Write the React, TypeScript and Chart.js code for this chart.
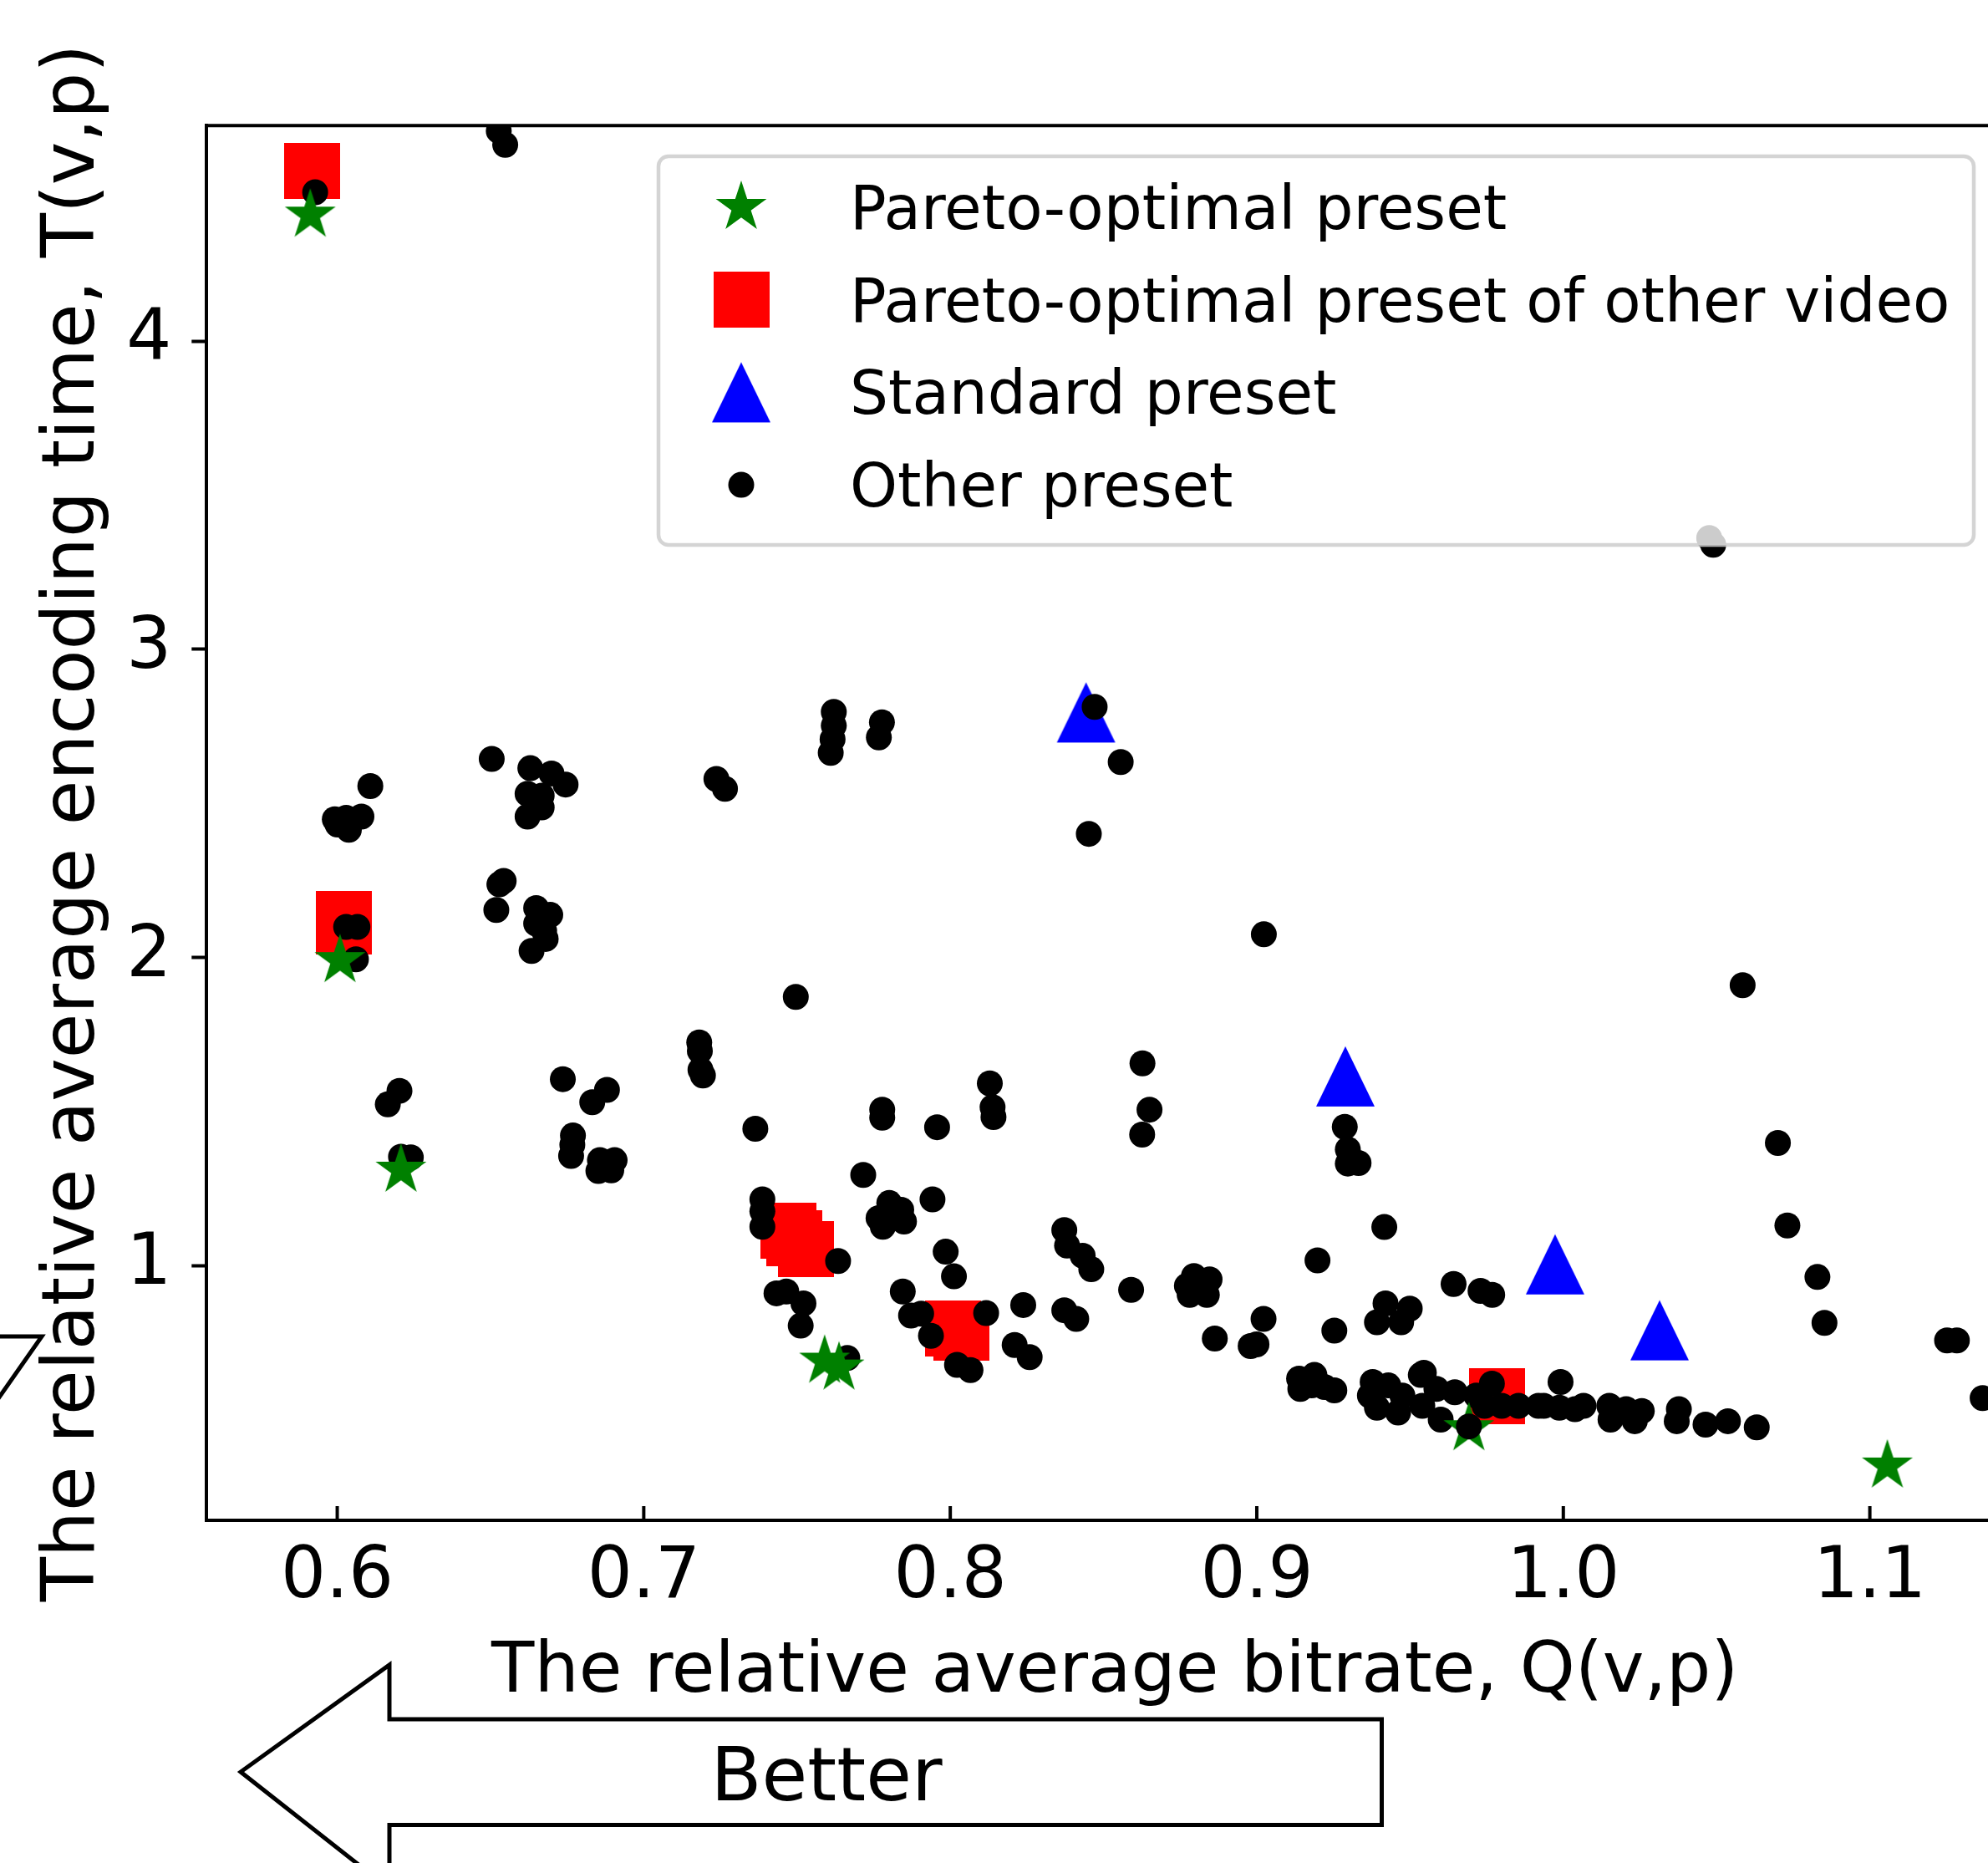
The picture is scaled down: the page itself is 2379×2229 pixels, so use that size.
import React, { useEffect, useRef } from 'react';
import { Chart, registerables } from 'chart.js';

Chart.register(...registerables);

const FONT = "'DejaVu Sans', 'Liberation Sans', sans-serif";

// ---- axis ticks ----
const xTickValues = [0.6, 0.7, 0.8, 0.9, 1.0, 1.1];
const yTickValues = [1, 2, 3, 4];

// ---- series ----
const paretoQ = [0.5912, 0.6009, 0.6208, 0.759, 0.7637, 0.9692, 1.1057];
const paretoT = [4.409, 1.99, 1.31, 0.69, 0.668, 0.471, 0.35];

const otherVideoQ = [0.5918, 0.6021, 0.6021, 0.7472, 0.749, 0.753, 0.801, 0.8035, 0.9783];
const otherVideoT = [4.552, 2.124, 2.1, 1.113, 1.088, 1.053, 0.797, 0.783, 0.575];

const standardQ = [0.8443, 0.9289, 0.9973, 1.0314];
const standardT = [2.795, 1.614, 1.004, 0.79];

const otherQ = [
  0.5928, 0.6527, 0.6548, 1.0476, 1.0489, 0.6108, 0.5992, 0.6029, 0.6079, 0.6038,
  0.6001, 0.6029, 0.6066, 0.6061, 0.6504, 0.663, 0.6699, 0.6745, 0.6621, 0.6667,
  0.6667, 0.6621, 0.6529, 0.6543, 0.6519, 0.6649, 0.6695, 0.6649, 0.6675, 0.668,
  0.6634, 0.7237, 0.7265, 0.762, 0.762, 0.7616, 0.761, 0.7777, 0.7767, 0.7496,
  0.8452, 0.8471, 0.8556, 0.9023, 1.0585, 0.6203, 0.6165, 0.6208, 0.624, 0.6736,
  0.688, 0.6832, 0.6769, 0.6767, 0.6763, 0.6857, 0.6905, 0.6852, 0.6894, 0.7181,
  0.7183, 0.7185, 0.7193, 0.7364, 0.7778, 0.7778, 0.7957, 0.8129, 0.8138, 0.8141,
  0.7716, 0.7387, 0.7387, 0.7387, 0.7465, 0.7521, 0.7512, 0.7433, 0.7634, 0.7664,
  0.7801, 0.784, 0.7849, 0.778, 0.7766, 0.7942, 0.7985, 0.8012, 0.7845, 0.7872,
  0.7905, 0.7937, 0.8117, 0.8022, 0.8066, 0.8238, 0.821, 0.8259, 0.8372, 0.8381,
  0.8432, 0.846, 0.8372, 0.8411, 0.8627, 0.865, 0.8626, 0.9287, 0.9297, 0.9297,
  0.9332, 0.9416, 0.9198, 0.859, 0.8795, 0.8846, 0.8781, 0.8837, 0.8772, 0.8863,
  0.9022, 0.898, 0.8999, 0.9253, 0.942, 0.9392, 0.9499, 0.9471, 0.9642, 0.973,
  0.9768, 0.9138, 0.9188, 0.9142, 0.9179, 0.9253, 0.9221, 0.9378, 0.9369, 0.9392,
  0.9429, 0.9461, 0.9475, 0.9535, 0.9545, 0.954, 0.9586, 0.96, 0.9646, 0.9716,
  0.9767, 0.9799, 0.9854, 0.9919, 0.9743, 1.07, 1.0731, 1.0829, 1.0852, 1.1252,
  1.1284, 1.1368, 0.9991, 0.9936, 0.9987, 1.0038, 1.0066, 1.015, 1.0154, 1.0205,
  1.0256, 1.0233, 1.0377, 1.037, 1.0464, 1.0537, 1.0631,
];
const otherT = [
  4.483, 4.682, 4.637, 3.361, 3.339, 2.556, 2.448, 2.453, 2.457, 2.414,
  2.431, 2.099, 2.099, 1.994, 2.644, 2.614, 2.597, 2.561, 2.531, 2.525,
  2.487, 2.457, 2.237, 2.248, 2.154, 2.16, 2.138, 2.11, 2.086, 2.06,
  2.021, 2.579, 2.547, 2.797, 2.752, 2.708, 2.664, 2.763, 2.714, 1.872,
  2.401, 2.813, 2.634, 2.075, 1.91, 1.567, 1.523, 1.353, 1.351, 1.605,
  1.57, 1.53, 1.422, 1.392, 1.356, 1.342, 1.342, 1.307, 1.309, 1.724,
  1.696, 1.635, 1.617, 1.444, 1.506, 1.48, 1.449, 1.591, 1.514, 1.482,
  1.294, 1.215, 1.176, 1.126, 0.916, 0.877, 0.805, 0.91, 1.015, 0.7,
  1.203, 1.181, 1.143, 1.126, 1.154, 1.215, 1.045, 0.965, 0.916, 0.838,
  0.844, 0.772, 0.846, 0.678, 0.661, 0.872, 0.742, 0.703, 1.115, 1.065,
  1.032, 0.988, 0.855, 0.827, 1.656, 1.506, 1.425, 1.45, 1.377, 1.331,
  1.333, 1.125, 1.017, 0.921, 0.966, 0.955, 0.905, 0.905, 0.934, 0.763,
  0.827, 0.739, 0.744, 0.789, 0.877, 0.816, 0.86, 0.816, 0.94, 0.918,
  0.905, 0.633, 0.645, 0.6, 0.611, 0.595, 0.606, 0.622, 0.578, 0.539,
  0.611, 0.523, 0.578, 0.645, 0.652, 0.545, 0.6, 0.5, 0.589, 0.578,
  0.617, 0.545, 0.545, 0.545, 0.545, 1.398, 1.13, 0.963, 0.814, 0.757,
  0.757, 0.57, 0.622, 0.545, 0.539, 0.534, 0.545, 0.545, 0.5, 0.534,
  0.528, 0.495, 0.534, 0.495, 0.484, 0.495, 0.475,
];
// "Other preset" points that sit on top of the green stars in the picture
const otherFrontQ = [0.9692];
const otherFrontT = [0.478];

const legendLabels = [
  'Pareto-optimal preset',
  'Pareto-optimal preset of other video',
  'Standard preset',
  'Other preset',
];
const axisXTitle = 'The relative average bitrate, Q(v,p)';
const axisYTitle = 'The relative average encoding time, T(v,p)';
const arrowText = 'Better';

const zip = (xs: number[], ys: number[]) => xs.map((x, i) => ({ x, y: ys[i] }));

function makeStar(r: number, color: string) {
  const size = Math.ceil(r * 2) + 4;
  const c = document.createElement('canvas');
  c.width = size;
  c.height = size;
  const g = c.getContext('2d')!;
  g.translate(size / 2, size / 2);
  g.beginPath();
  for (let i = 0; i < 10; i++) {
    const rr = i % 2 === 0 ? r : r * 0.381966;
    const ang = -Math.PI / 2 + (i * Math.PI) / 5;
    const px = rr * Math.cos(ang);
    const py = rr * Math.sin(ang);
    if (i === 0) g.moveTo(px, py);
    else g.lineTo(px, py);
  }
  g.closePath();
  g.fillStyle = color;
  g.fill();
  return c;
}

function makeSquare(side: number, color: string) {
  const c = document.createElement('canvas');
  c.width = side;
  c.height = side;
  const g = c.getContext('2d')!;
  g.fillStyle = color;
  g.fillRect(0, 0, side, side);
  return c;
}

function makeTriangle(w: number, h: number, color: string) {
  const c = document.createElement('canvas');
  c.width = w + 2;
  c.height = h + 2;
  const g = c.getContext('2d')!;
  g.beginPath();
  g.moveTo(1 + w / 2, 1);
  g.lineTo(1 + w, 1 + h);
  g.lineTo(1, 1 + h);
  g.closePath();
  g.fillStyle = color;
  g.fill();
  return c;
}

export default function App() {
  const ref = useRef<HTMLCanvasElement>(null);

  useEffect(() => {
    const canvas = ref.current!;
    const star = makeStar(32, '#008000');
    const square = makeSquare(67, '#ff0000');
    const tri = makeTriangle(70, 72, '#0000ff');
    const DOT_R = 15.5;

    const decor = {
      id: 'decor',
      afterDraw(chart: any) {
        const ctx = chart.ctx as CanvasRenderingContext2D;
        const a = chart.chartArea;
        ctx.save();
        // top / right spines
        ctx.strokeStyle = '#000';
        ctx.lineWidth = 4;
        ctx.beginPath();
        ctx.moveTo(a.left - 2, a.top);
        ctx.lineTo(a.right, a.top);
        ctx.lineTo(a.right, a.bottom);
        ctx.stroke();
        // inward x ticks
        const xs = chart.scales.x;
        ctx.beginPath();
        xTickValues.forEach((v) => {
          const px = xs.getPixelForValue(v);
          ctx.moveTo(px, a.bottom);
          ctx.lineTo(px, a.bottom - 17);
        });
        ctx.stroke();

        // legend
        const lx0 = 788, ly0 = 187, lx1 = 2362, ly1 = 652;
        ctx.beginPath();
        (ctx as any).roundRect(lx0, ly0, lx1 - lx0, ly1 - ly0, 12);
        ctx.fillStyle = 'rgba(255,255,255,0.8)';
        ctx.fill();
        ctx.strokeStyle = 'rgba(204,204,204,0.85)';
        ctx.lineWidth = 4.5;
        ctx.stroke();
        const mx = 887;
        const rowY = [248, 358.7, 469.4, 580.1];
        const icons: any[] = [star, square, tri, 'dot'];
        icons.forEach((ic, i) => {
          const y = rowY[i];
          if (ic === 'dot') {
            ctx.beginPath();
            ctx.arc(mx, y, DOT_R, 0, Math.PI * 2);
            ctx.fillStyle = '#000';
            ctx.fill();
          } else {
            ctx.drawImage(ic, mx - ic.width / 2, y - ic.height / 2);
          }
          ctx.fillStyle = '#000';
          ctx.font = `72.5px ${FONT}`;
          ctx.textAlign = 'left';
          ctx.textBaseline = 'alphabetic';
          ctx.fillText(legendLabels[i], 1017, y + 26);
        });

        // "Better" arrow along the x axis (pointing left)
        ctx.strokeStyle = '#000';
        ctx.lineWidth = 5;
        ctx.lineJoin = 'miter';
        ctx.beginPath();
        ctx.moveTo(466, 2260);
        ctx.lineTo(288, 2120);
        ctx.lineTo(466, 1992);
        ctx.lineTo(466, 2057);
        ctx.lineTo(1653.5, 2057);
        ctx.lineTo(1653.5, 2183.5);
        ctx.lineTo(466, 2183.5);
        ctx.lineTo(466, 2260);
        ctx.stroke();
        ctx.fillStyle = '#000';
        ctx.font = `89px ${FONT}`;
        ctx.textAlign = 'center';
        ctx.textBaseline = 'alphabetic';
        ctx.fillText(arrowText, 989, 2154);

        // arrow along the y axis (pointing down), mostly outside the picture
        ctx.beginPath();
        ctx.moveTo(-11, 1000);
        ctx.lineTo(-11, 1599);
        ctx.lineTo(50, 1599);
        ctx.lineTo(-74, 1776);
        ctx.stroke();
        ctx.restore();
      },
    };

    const chart = new Chart(canvas, {
      type: 'scatter',
      data: {
        datasets: [
          {
            label: 'Other preset (front)',
            data: zip(otherFrontQ, otherFrontT),
            pointStyle: 'circle',
            pointRadius: DOT_R,
            backgroundColor: '#000',
            borderWidth: 0,
            order: 0,
            clip: 0,
          },
          {
            label: legendLabels[0],
            data: zip(paretoQ, paretoT),
            pointStyle: star as any,
            pointRadius: 32,
            borderWidth: 0,
            order: 1,
            clip: 0,
          },
          {
            label: legendLabels[3],
            data: zip(otherQ, otherT),
            pointStyle: 'circle',
            pointRadius: DOT_R,
            backgroundColor: '#000',
            borderWidth: 0,
            order: 2,
            clip: 0,
          },
          {
            label: legendLabels[2],
            data: zip(standardQ, standardT),
            pointStyle: tri as any,
            pointRadius: 35,
            borderWidth: 0,
            order: 3,
            clip: 0,
          },
          {
            label: legendLabels[1],
            data: zip(otherVideoQ, otherVideoT),
            pointStyle: square as any,
            pointRadius: 34,
            borderWidth: 0,
            order: 4,
            clip: 0,
          },
        ] as any,
      },
      options: {
        animation: false,
        responsive: false,
        devicePixelRatio: 1,
        events: [],
        layout: { autoPadding: false, padding: { left: 0, right: 19, top: 150.2, bottom: 0 } },
        plugins: {
          legend: { display: false },
          tooltip: { enabled: false },
        },
        scales: {
          x: {
            type: 'linear',
            position: 'bottom',
            min: 0.5574,
            max: 1.15,
            afterBuildTicks: (s: any) => {
              s.ticks = xTickValues.map((v) => ({ value: v }));
            },
            afterFit: (s: any) => {
              s.height = 410;
              s.paddingLeft = 0;
              s.paddingRight = 0;
            },
            ticks: {
              font: { family: FONT, size: 85 },
              color: '#000',
              padding: 19,
              maxRotation: 0,
              autoSkip: false,
              callback: (v: any) => Number(v).toFixed(1),
            },
            grid: { display: false, drawTicks: false },
            border: { display: true, color: '#000', width: 4 },
            title: {
              display: true,
              text: axisXTitle,
              font: { family: FONT, size: 84 },
              color: '#000',
              padding: { top: 0, bottom: 176 },
            },
          },
          y: {
            type: 'linear',
            position: 'left',
            min: 0.1733,
            max: 4.6995,
            afterBuildTicks: (s: any) => {
              s.ticks = yTickValues.map((v) => ({ value: v }));
            },
            afterFit: (s: any) => {
              s.width = 247.3;
              s.paddingTop = 0;
              s.paddingBottom = 0;
            },
            ticks: {
              font: { family: FONT, size: 85 },
              color: '#000',
              padding: 24,
              autoSkip: false,
              callback: (v: any) => String(v),
            },
            grid: {
              display: true,
              drawOnChartArea: false,
              drawTicks: true,
              tickLength: 18,
              tickWidth: 4,
              tickColor: '#000',
              color: '#000',
            },
            border: { display: true, color: '#000', width: 4 },
            title: {
              display: true,
              text: axisYTitle,
              font: { family: FONT, size: 87 },
              color: '#000',
              padding: { top: 37, bottom: 0 },
            },
          },
        },
      } as any,
      plugins: [decor],
    });
    return () => chart.destroy();
  }, []);

  return (
    <div
      style={{
        position: 'absolute',
        left: 0,
        top: 0,
        width: 2379,
        height: 2229,
        overflow: 'hidden',
        background: '#fff',
      }}
    >
      <canvas ref={ref} width={2440} height={2229} style={{ display: 'block', width: 2440, height: 2229 }} />
    </div>
  );
}
